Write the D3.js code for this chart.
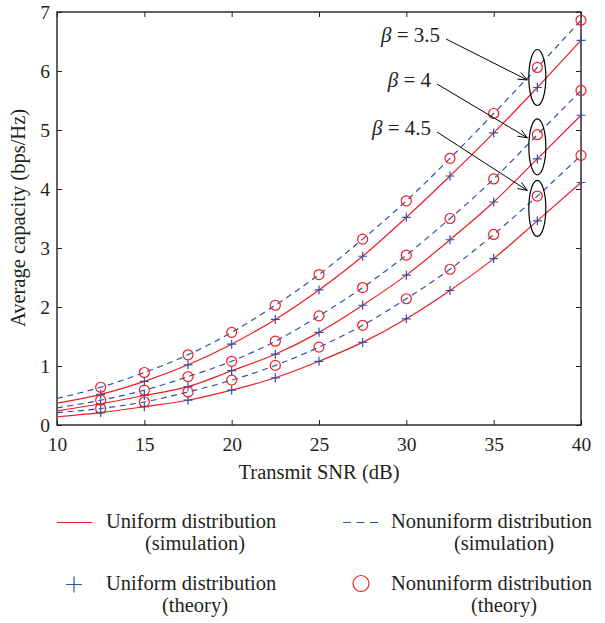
<!DOCTYPE html>
<html>
<head>
<meta charset="utf-8">
<script src="https://cdn.jsdelivr.net/npm/d3@7"></script>
<style>
  body { margin: 0; background: #fff; }
  svg { display: block; font-family: "Liberation Serif", "Times New Roman", serif; }
</style>
</head>
<body>
<svg id="chart" width="605" height="623"></svg>
<script>
/** SNR grid of the simulation curves and of the theory markers (dB) */
var snrSim = [10, 12.5, 15, 17.5, 20, 22.5, 25, 27.5, 30, 32.5, 35, 37.5, 40];
var snrTheory = [12.5, 15, 17.5, 20, 22.5, 25, 27.5, 30, 32.5, 35, 37.5, 40];

/** simulation curves (bps/Hz) */
var uniformSim35 = [0.37, 0.52, 0.74, 1.02, 1.37, 1.79, 2.29, 2.86, 3.52, 4.22, 4.95, 5.72, 6.52];
var nonuniformSim35 = [0.45, 0.64, 0.89, 1.19, 1.57, 2.03, 2.55, 3.15, 3.80, 4.52, 5.28, 6.06, 6.86];
var uniformSim4 = [0.24, 0.36, 0.50, 0.65, 0.92, 1.20, 1.57, 2.03, 2.54, 3.14, 3.78, 4.51, 5.25];
var nonuniformSim4 = [0.29, 0.42, 0.59, 0.82, 1.08, 1.42, 1.85, 2.33, 2.88, 3.50, 4.17, 4.92, 5.67];
var uniformSim45 = [0.14, 0.21, 0.31, 0.42, 0.59, 0.80, 1.08, 1.40, 1.80, 2.28, 2.82, 3.46, 4.11];
var nonuniformSim45 = [0.21, 0.28, 0.39, 0.56, 0.76, 1.01, 1.32, 1.69, 2.14, 2.64, 3.23, 3.88, 4.57];

/** theory markers (bps/Hz) */
var uniformTheory35 = [0.52, 0.74, 1.02, 1.37, 1.79, 2.29, 2.86, 3.52, 4.22, 4.95, 5.72, 6.52];
var nonuniformTheory35 = [0.64, 0.89, 1.19, 1.57, 2.03, 2.55, 3.15, 3.80, 4.52, 5.28, 6.06, 6.86];
var uniformTheory4 = [0.36, 0.50, 0.65, 0.92, 1.20, 1.57, 2.03, 2.54, 3.14, 3.78, 4.51, 5.25];
var nonuniformTheory4 = [0.42, 0.59, 0.82, 1.08, 1.42, 1.85, 2.33, 2.88, 3.50, 4.17, 4.92, 5.67];
var uniformTheory45 = [0.21, 0.31, 0.42, 0.59, 0.80, 1.08, 1.40, 1.80, 2.28, 2.82, 3.46, 4.11];
var nonuniformTheory45 = [0.28, 0.39, 0.56, 0.76, 1.01, 1.32, 1.69, 2.14, 2.64, 3.23, 3.88, 4.57];

var betas = ["3.5", "4", "4.5"];
var xTicks = [10, 15, 20, 25, 30, 35, 40];
var yTicks = [0, 1, 2, 3, 4, 5, 6, 7];
var legendLabels = [
  ["Uniform distribution", "(simulation)"],
  ["Nonuniform distribution", "(simulation)"],
  ["Uniform distribution", "(theory)"],
  ["Nonuniform distribution", "(theory)"]
];

var red = "#ee1d23", blue = "#2f51a6", ink = "#231f20";

var svg = d3.select("#chart"),
  margin = {top: 12, right: 24, bottom: 198, left: 57},
  width = 605 - margin.left - margin.right,
  height = 623 - margin.top - margin.bottom;

var x = d3.scaleLinear().domain([10, 40]).range([0, width]);
var y = d3.scaleLinear().domain([0, 7]).range([height, 0]);

var g = svg.append("g").attr("transform", `translate(${margin.left},${margin.top})`);

/** axes with inward ticks on all four sides */
function styleAxis(sel) {
  sel.attr("font-family", null).attr("font-size", null);
  sel.select(".domain").remove();
  sel.selectAll("line").attr("stroke", ink).attr("stroke-width", 1);
  sel.selectAll("text").attr("fill", ink).style("font-size", "19.5px");
}
g.append("g").attr("transform", `translate(0,${height})`)
  .call(d3.axisBottom(x).tickValues(xTicks).tickFormat(d3.format("d")).tickSizeInner(-5).tickSizeOuter(0).tickPadding(12))
  .call(styleAxis);
g.append("g")
  .call(d3.axisTop(x).tickValues(xTicks).tickSizeInner(-5).tickSizeOuter(0).tickFormat(""))
  .call(styleAxis);
g.append("g")
  .call(d3.axisLeft(y).tickValues(yTicks).tickFormat(d3.format("d")).tickSizeInner(-5).tickSizeOuter(0).tickPadding(7))
  .call(styleAxis);
g.append("g").attr("transform", `translate(${width},0)`)
  .call(d3.axisRight(y).tickValues(yTicks).tickSizeInner(-5).tickSizeOuter(0).tickFormat(""))
  .call(styleAxis);

g.append("rect")
  .attr("width", width).attr("height", height)
  .attr("fill", "none").attr("stroke", ink).attr("stroke-width", 1.4);

/** axis titles */
g.append("text")
  .attr("x", width / 2).attr("y", height + 54)
  .attr("text-anchor", "middle").attr("fill", ink).style("font-size", "20.5px")
  .text("Transmit SNR (dB)");
svg.append("text")
  .attr("transform", "translate(25,218) rotate(-90)")
  .attr("text-anchor", "middle").attr("fill", ink).style("font-size", "20.5px")
  .text("Average capacity (bps/Hz)");

/** curves */
var line = d3.line()
  .x(function(d) { return x(d[0]); })
  .y(function(d) { return y(d[1]); })
  .curve(d3.curveMonotoneX);

var simSeries = [
  {vals: nonuniformSim35, dashed: true}, {vals: uniformSim35, dashed: false},
  {vals: nonuniformSim4, dashed: true}, {vals: uniformSim4, dashed: false},
  {vals: nonuniformSim45, dashed: true}, {vals: uniformSim45, dashed: false}
];
g.selectAll(".sim")
  .data(simSeries)
  .enter().append("path")
  .attr("class", "sim")
  .attr("d", function(s) { return line(d3.zip(snrSim, s.vals)); })
  .attr("fill", "none")
  .attr("stroke", function(s) { return s.dashed ? blue : red; })
  .attr("stroke-width", 1.2)
  .attr("stroke-dasharray", function(s) { return s.dashed ? "6,4.5" : null; });

/** theory markers: + for uniform, o for nonuniform */
var plusPts = [].concat(
  d3.zip(snrTheory, uniformTheory35), d3.zip(snrTheory, uniformTheory4), d3.zip(snrTheory, uniformTheory45));
var circlePts = [].concat(
  d3.zip(snrTheory, nonuniformTheory35), d3.zip(snrTheory, nonuniformTheory4), d3.zip(snrTheory, nonuniformTheory45));

g.selectAll(".plus")
  .data(plusPts)
  .enter().append("path")
  .attr("class", "plus")
  .attr("transform", function(d) { return `translate(${x(d[0])},${y(d[1])})`; })
  .attr("d", "M-4.5,0H4.5M0,-4.5V4.5")
  .attr("stroke", blue).attr("stroke-width", 1.2);

g.selectAll(".circ")
  .data(circlePts)
  .enter().append("circle")
  .attr("class", "circ")
  .attr("cx", function(d) { return x(d[0]); })
  .attr("cy", function(d) { return y(d[1]); })
  .attr("r", 5)
  .attr("fill", "none").attr("stroke", red).attr("stroke-width", 1.2);

/** beta annotations: ellipse around the 37.5 dB markers, label and arrow */
var pairs = [
  [nonuniformTheory35, uniformTheory35],
  [nonuniformTheory4, uniformTheory4],
  [nonuniformTheory45, uniformTheory45]
];
var iMark = snrTheory.indexOf(37.5);
var labelPos = [[383, 30], [374, 75], [374, 123]];   // label end x, baseline y (plot coords)
var arrowDy = [2.5, -9, -18];

betas.forEach(function(b, i) {
  var cx = x(37.5),
    cy = (y(pairs[i][0][iMark]) + y(pairs[i][1][iMark])) / 2;

  g.append("ellipse")
    .attr("cx", cx).attr("cy", cy).attr("rx", 8.5).attr("ry", 28)
    .attr("fill", "none").attr("stroke", "#000").attr("stroke-width", 1.2);

  var t = g.append("text")
    .attr("x", labelPos[i][0]).attr("y", labelPos[i][1])
    .attr("text-anchor", "end").attr("fill", ink).style("font-size", "21px");
  t.append("tspan").attr("font-style", "italic").text("\u03b2");
  t.append("tspan").text(" = " + b);

  var x0 = labelPos[i][0] + 6, y0 = labelPos[i][1] - 3,
    x1 = cx - 10, y1 = cy + arrowDy[i],
    ang = Math.atan2(y1 - y0, x1 - x0), len = 10, spread = 0.38;
  g.append("path")
    .attr("d", `M${x0},${y0}L${x1},${y1}` +
      `M${x1 - len * Math.cos(ang - spread)},${y1 - len * Math.sin(ang - spread)}L${x1},${y1}` +
      `L${x1 - len * Math.cos(ang + spread)},${y1 - len * Math.sin(ang + spread)}`)
    .attr("fill", "none").attr("stroke", "#000").attr("stroke-width", 1);
});

/** legend: two-line labels as one text element each */
var legend = svg.append("g").style("font-size", "20.5px").attr("fill", ink);
var cols = [{sym: 57, text: 106, center: 195}, {sym: 343, text: 391, center: 504}];
var rows = [527.5, 589.5];

legendLabels.forEach(function(lab, i) {
  var c = cols[i % 2], r = rows[Math.floor(i / 2)];
  var t = legend.append("text").attr("y", r);
  t.append("tspan").attr("x", c.text).text(lab[0]);
  t.append("tspan").attr("x", c.center).attr("dy", 22.8).attr("text-anchor", "middle").text(lab[1]);

  var sy = r - 5;
  if (i === 0 || i === 1) {
    legend.append("line")
      .attr("x1", c.sym).attr("x2", c.sym + 35).attr("y1", sy).attr("y2", sy)
      .attr("stroke", i === 0 ? red : blue).attr("stroke-width", 1.2)
      .attr("stroke-dasharray", i === 1 ? "8,5.5" : null);
  } else if (i === 2) {
    legend.append("path")
      .attr("transform", `translate(${c.sym + 17},${sy})`)
      .attr("d", "M-8,0H8M0,-8V8")
      .attr("stroke", blue).attr("stroke-width", 1.2);
  } else {
    legend.append("circle")
      .attr("cx", c.sym + 18).attr("cy", sy - 1).attr("r", 8)
      .attr("fill", "none").attr("stroke", red).attr("stroke-width", 1.2);
  }
});
</script>
</body>
</html>
